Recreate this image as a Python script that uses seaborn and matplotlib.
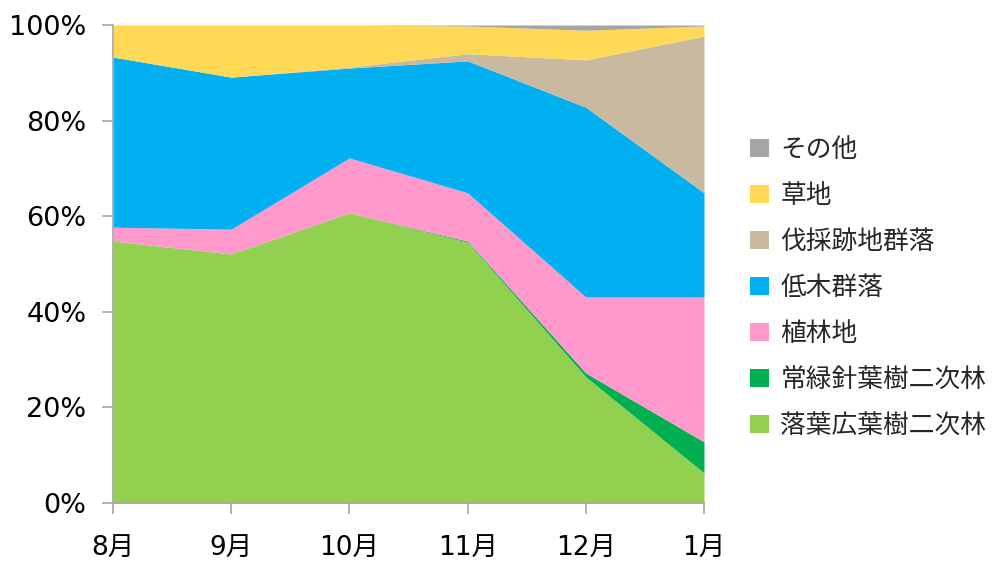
import numpy as np
import pandas as pd
import matplotlib
matplotlib.use('Agg')
import matplotlib.pyplot as plt
import seaborn as sns

# --- dados (% de cada categoria por mês) ---
meses = ['8月', '9月', '10月', '11月', '12月', '1月']
categorias = ['落葉広葉樹二次林', '常緑針葉樹二次林', '植林地', '低木群落',
              '伐採跡地群落', '草地', 'その他']
rakuyo = [54.8, 52.1, 60.7, 54.6, 26.4, 6.3]
joryoku = [0.0, 0.0, 0.0, 0.2, 0.8, 6.5]
shokurin = [2.9, 5.2, 11.5, 10.1, 15.9, 30.3]
teiboku = [35.6, 31.8, 18.8, 27.6, 39.7, 21.8]
bassai = [0.0, 0.0, 0.2, 1.5, 9.9, 32.8]
sochi = [6.7, 10.9, 8.8, 5.8, 6.2, 2.1]
sonota = [0.0, 0.0, 0.0, 0.2, 1.1, 0.2]

cores = ['#92D050', '#00B050', '#FF99CC', '#00B0F0', '#C9B99F', '#FFD955', '#A5A5A5']

df = pd.DataFrame(dict(zip(categorias, [rakuyo, joryoku, shokurin, teiboku,
                                        bassai, sochi, sonota])), index=meses)

sns.set_theme(style='white')
plt.rcParams['font.family'] = ['DejaVu Sans', 'Noto Sans CJK JP']
cor_eixo = '#A6A6A6'

fig = plt.figure(figsize=(9.93, 5.62), dpi=100)
ax = fig.add_axes([113 / 993, 1 - 503 / 562, (704 - 113) / 993, (503 - 25) / 562])

x = np.arange(len(meses))
areas = ax.stackplot(x, *[df[c].values for c in categorias], colors=cores,
                     labels=categorias, linewidth=0)

ax.set_xlim(0, len(meses) - 1)
ax.set_ylim(0, 100)
ax.set_xticks(x)
ax.set_xticklabels(meses, fontsize=19)
ax.set_yticks(range(0, 101, 20))
ax.set_yticklabels([f'{v}%' for v in range(0, 101, 20)], fontsize=19.5)
ax.tick_params(axis='both', colors=cor_eixo, labelcolor='#000000',
               length=8, width=1.2, direction='out', bottom=True, left=True)
ax.tick_params(axis='x', pad=16)
ax.tick_params(axis='y', pad=11)
for lado in ['top', 'right']:
    ax.spines[lado].set_visible(False)
for lado in ['left', 'bottom']:
    ax.spines[lado].set_color(cor_eixo)
    ax.spines[lado].set_linewidth(1.2)

handles, labels = ax.get_legend_handles_labels()
leg = ax.legend(handles[::-1], labels[::-1], loc='center left',
                bbox_to_anchor=(1.061, 0.45), frameon=False,
                prop={'family': ['Noto Sans CJK JP'], 'size': 18.5},
                handlelength=0.72, handleheight=0.72, handletextpad=0.45,
                labelspacing=0.78, borderaxespad=0)

fig.savefig('out.png', dpi=100)
